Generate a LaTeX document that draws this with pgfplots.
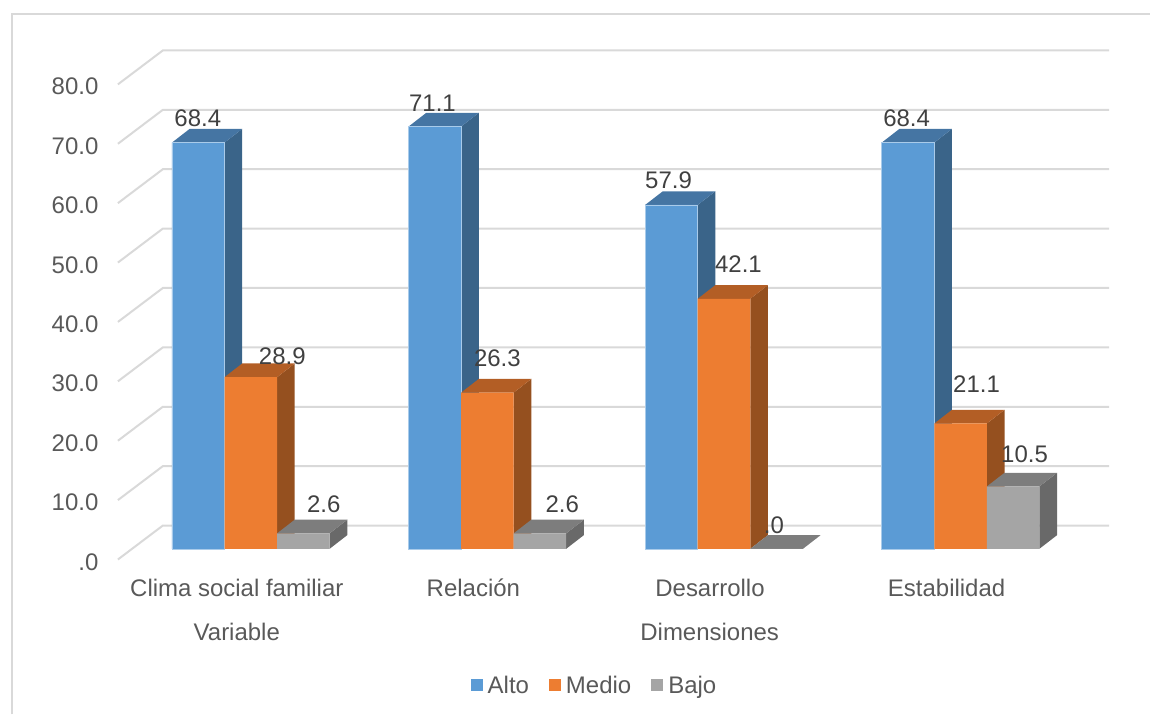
\documentclass[border=0pt]{standalone}
\usepackage{fontspec}
\setmainfont{Liberation Sans}
\usepackage{pgfplots}
\usepackage{pgfplotstable}
\pgfplotsset{compat=1.18}

\definecolor{gridc}{HTML}{D9D9D9}
\definecolor{ticktxt}{HTML}{595959}
\definecolor{labtxt}{HTML}{404040}
\definecolor{blu}{HTML}{5B9BD5}
\definecolor{blutop}{HTML}{4575A3}
\definecolor{bluside}{HTML}{3A6489}
\definecolor{blulin}{HTML}{A9CBEA}
\definecolor{ora}{HTML}{ED7D31}
\definecolor{oratop}{HTML}{B35E25}
\definecolor{oraside}{HTML}{95501F}
\definecolor{gry}{HTML}{A5A5A5}
\definecolor{grytop}{HTML}{7D7D7D}
\definecolor{gryside}{HTML}{696969}

\pgfplotstableread{
cat alto medio bajo
0 68.4 28.9 2.6
1 71.1 26.3 2.6
2 57.9 42.1 0.0
3 68.4 21.1 10.5
}\datatab

% data labels: value, text, shift from the group centre and bar top, in px
\pgfplotstableread{
x y lab dx dy
0 68.4 68.4 -53 24
1 71.1 71.1 -55 23
2 57.9 57.9 -55.5 24.3
3 68.4 68.4 -54 24
}\labalto
\pgfplotstableread{
x y lab dx dy
0 28.9 28.9 31.5 20.8
1 26.3 26.3 10 34.3
2 42.1 42.1 14.5 34.3
3 21.1 21.1 16 39.3
}\labmedio
\pgfplotstableread{
x y lab dx dy
0 2.6 2.6 73 29.1
1 2.6 2.6 75 29.1
2 0.0 .0 50 23.6
3 10.5 10.5 64 32.3
}\labbajo

% top and side of a bar: category, slot (-1,0,1), value, top colour, side colour
\newcommand\barfaces[5]{%
  \pgfmathsetmacro\xl{#1+(#2-0.5)*0.2221}%
  \pgfmathsetmacro\xr{#1+(#2+0.5)*0.2221}%
  \pgfmathsetmacro\xlb{\xl+0.0747}%
  \pgfmathsetmacro\xrb{\xr+0.0747}%
  \pgfmathsetmacro\yb{#3+2.305}%
  \addplot[fill=#5,draw=none,forget plot] coordinates {(\xr,0) (\xrb,2.305) (\xrb,\yb) (\xr,#3)} --cycle;
  \addplot[fill=#4,draw=none,forget plot] coordinates {(\xl,#3) (\xlb,\yb) (\xrb,\yb) (\xr,#3)} --cycle;
}
% one gridline: the oblique piece on the side wall, then along the back wall
\newcommand\gridl[1]{%
  \pgfmathsetmacro\yf{#1-1.8}%
  \pgfmathsetmacro\yk{#1+3.92}%
  \addplot[gridc,line width=2pt,forget plot] coordinates {(-0.5616,\yf) (-0.3716,\yk) (3.6275,\yk)};
}

\begin{document}
\begin{tikzpicture}
\begin{axis}[
  scale only axis,
  width=1151pt, height=715pt,
  xmin=-1.05997, xmax=3.80068,
  ymin=-27.877, ymax=92.41,
  clip=false,
  axis line style={draw=none},
  tick style={draw=none},
  xtick={0,1,2,3},
  xticklabels={Clima social familiar,Relación,Desarrollo,Estabilidad},
  ytick={0,10,20,30,40,50,60,70,80},
  yticklabels={.0,10.0,20.0,30.0,40.0,50.0,60.0,70.0,80.0},
  x tick label style={font=\fontsize{24}{28}\selectfont,text=ticktxt,anchor=center,xshift=-14pt,yshift=127pt},
  y tick label style={font=\fontsize{24}{28}\selectfont,text=ticktxt,anchor=east,xshift=102pt,yshift=-13pt},
  legend columns=-1,
  legend style={at={(595/1151,29/715)},anchor=center,draw=none,fill=none,
    font=\fontsize{24}{28}\selectfont,text=ticktxt,
    /tikz/every odd column/.append style={column sep=3pt},
    /tikz/every even column/.append style={column sep=18pt}},
  legend image code/.code={\fill[#1,draw=none] (0pt,-6pt) rectangle (12pt,6pt);},
  nodes near coords style={font=\fontsize{24}{28}\selectfont,text=labtxt,anchor=center,xshift=\dx pt,yshift=\dy pt},
  lab/.style={draw=none,no marks,forget plot,nodes near coords,point meta=explicit symbolic,
    visualization depends on={\thisrow{dx}\as\dx},
    visualization depends on={\thisrow{dy}\as\dy}},
]
\draw[gridc,line width=2pt] (axis cs:-1.00718,-27.877) -- (axis cs:-1.00718,90.05) -- (axis cs:3.80068,90.05);

\gridl{0}\gridl{10}\gridl{20}\gridl{30}\gridl{40}\gridl{50}\gridl{60}\gridl{70}\gridl{80}

\barfaces{0}{-1}{68.4}{blutop}{bluside}
\barfaces{1}{-1}{71.1}{blutop}{bluside}
\barfaces{2}{-1}{57.9}{blutop}{bluside}
\barfaces{3}{-1}{68.4}{blutop}{bluside}
\addplot[ybar,bar width=52.6pt,bar shift=-52.6pt,fill=blu,draw=blulin,line width=0.6pt] table[x=cat,y=alto]{\datatab};
\addlegendentry{Alto}

\addplot[lab] table[x=x,y=y,meta=lab]{\labbajo};

\barfaces{0}{0}{28.9}{oratop}{oraside}
\barfaces{1}{0}{26.3}{oratop}{oraside}
\barfaces{2}{0}{42.1}{oratop}{oraside}
\barfaces{3}{0}{21.1}{oratop}{oraside}
\addplot[ybar,bar width=52.6pt,bar shift=0pt,fill=ora,draw=none] table[x=cat,y=medio]{\datatab};
\addlegendentry{Medio}

\barfaces{0}{1}{2.6}{grytop}{gryside}
\barfaces{1}{1}{2.6}{grytop}{gryside}
\barfaces{2}{1}{0.0}{grytop}{gryside}
\barfaces{3}{1}{10.5}{grytop}{gryside}
\addplot[ybar,bar width=52.6pt,bar shift=52.6pt,fill=gry,draw=none] table[x=cat,y=bajo]{\datatab};
\addlegendentry{Bajo}

\addplot[lab] table[x=x,y=y,meta=lab]{\labalto};
\addplot[lab] table[x=x,y=y,meta=lab]{\labmedio};

\node[font=\fontsize{24}{28}\selectfont,text=ticktxt] at (axis cs:-0.0591,-13.97) {Variable};
\node[font=\fontsize{24}{28}\selectfont,text=ticktxt] at (axis cs:1.9396,-13.97) {Dimensiones};
\end{axis}
\end{tikzpicture}
\end{document}
